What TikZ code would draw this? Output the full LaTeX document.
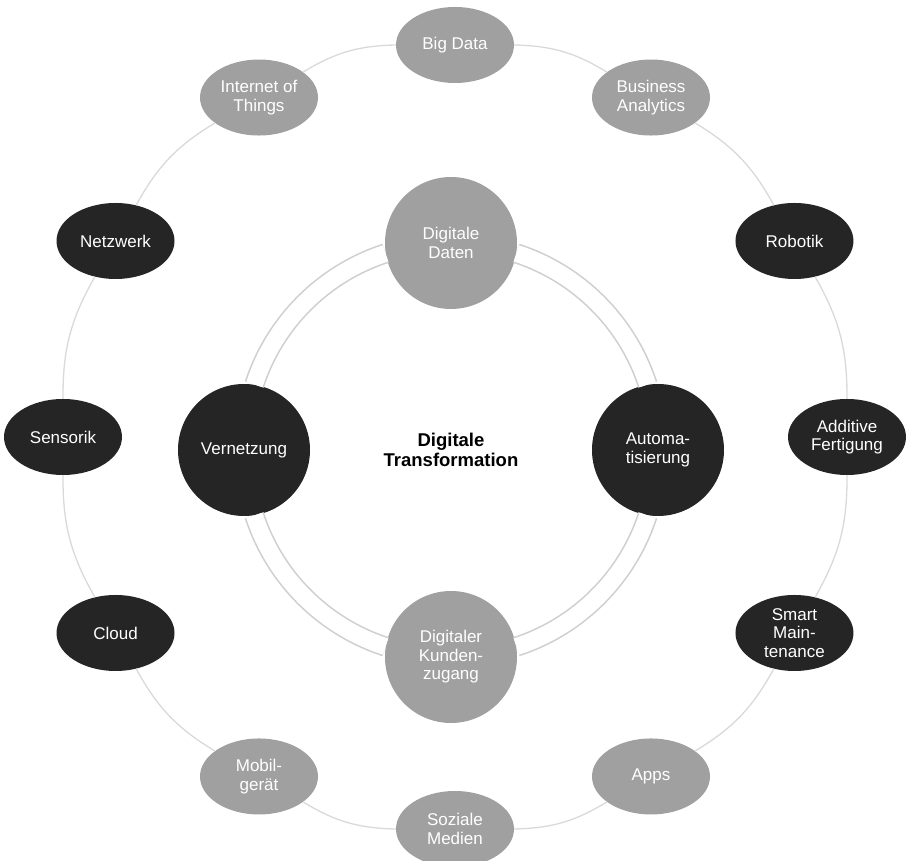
\documentclass[tikz,border=0pt]{standalone}
\usepackage{fontspec}
\setmainfont{Liberation Sans}
\usepackage{tikz}
\usetikzlibrary{shapes.geometric}

\definecolor{grauhell}{HTML}{A0A0A0}
\definecolor{grauschwarz}{HTML}{252525}
\definecolor{ringhell}{HTML}{D9D9D9}
\definecolor{ringinnen}{HTML}{CFCFCF}

\begin{document}
\begin{tikzpicture}[x=1pt, y=1pt,
		aussen/.style={ellipse, minimum width=118pt, minimum height=76pt, inner sep=0pt, align=center, text=white, font=\fontsize{17}{18.5}\selectfont},
		innen/.style={circle, minimum size=132pt, inner sep=0pt, align=center, text=white, font=\fontsize{17}{18.5}\selectfont},
		bogen/.style={draw=ringhell, line width=1.3pt},
		doppelring/.style={draw=ringinnen, line width=1.6pt, double=white, double distance=17pt, looseness=0.9}]
			\useasboundingbox (-455,-424) rectangle (451,437);
			% Aeussere Knoten
			\foreach \i/\farbe/\txt in {1/grauhell/{Big Data}, 2/grauhell/{Business\\Analytics}, 3/grauschwarz/Robotik, 4/grauschwarz/{Additive\\Fertigung}, 5/grauschwarz/{Smart\\Main-\\tenance}, 6/grauhell/Apps, 7/grauhell/{Soziale\\Medien}, 8/grauhell/{Mobil-\\gerät}, 9/grauschwarz/Cloud, 10/grauschwarz/Sensorik, 11/grauschwarz/Netzwerk, 12/grauhell/{Internet of\\Things}} {
				\node[aussen, fill=\farbe] (aussen\i) at ({90 - 30*(\i-1)}:392) {\txt};
			}
			% Innere Knoten
			\begin{scope}[shift={(-4,-13)}]
				\node[innen, fill=grauhell] (daten) at (90:207) {Digitale\\Daten};
				\node[innen, fill=grauschwarz] (auto) at (0:207) {Automa-\\tisierung};
				\node[innen, fill=grauhell] (kunden) at (-90:207) {Digitaler\\Kunden-\\zugang};
				\node[innen, fill=grauschwarz] (vernetzung) at (180:207) {Vernetzung};
				\node[align=center, font=\bfseries\fontsize{18.5}{20}\selectfont] (titel) at (0,0) {Digitale\\Transformation};
			\end{scope}
			% Aeusserer Ring
			\draw[bogen] (aussen1) to[bend left=15] (aussen2);
			\draw[bogen] (aussen2) to[bend left=15] (aussen3);
			\draw[bogen] (aussen3) to[bend left=15] (aussen4);
			\draw[bogen] (aussen4) to[bend left=15] (aussen5);
			\draw[bogen] (aussen5) to[bend left=15] (aussen6);
			\draw[bogen] (aussen6) to[bend left=15] (aussen7);
			\draw[bogen] (aussen7) to[bend left=15] (aussen8);
			\draw[bogen] (aussen8) to[bend left=15] (aussen9);
			\draw[bogen] (aussen9) to[bend left=15] (aussen10);
			\draw[bogen] (aussen10) to[bend left=15] (aussen11);
			\draw[bogen] (aussen11) to[bend left=15] (aussen12);
			\draw[bogen] (aussen12) to[bend left=15] (aussen1);
			% Innerer Doppelring
			\draw[doppelring] (daten.-9) to[out=-18, in=108] (auto.99);
			\draw[doppelring] (auto.-99) to[out=-108, in=18] (kunden.9);
			\draw[doppelring] (kunden.171) to[out=162, in=-72] (vernetzung.-81);
			\draw[doppelring] (vernetzung.81) to[out=72, in=-162] (daten.189);
		\end{tikzpicture}
\end{document}
